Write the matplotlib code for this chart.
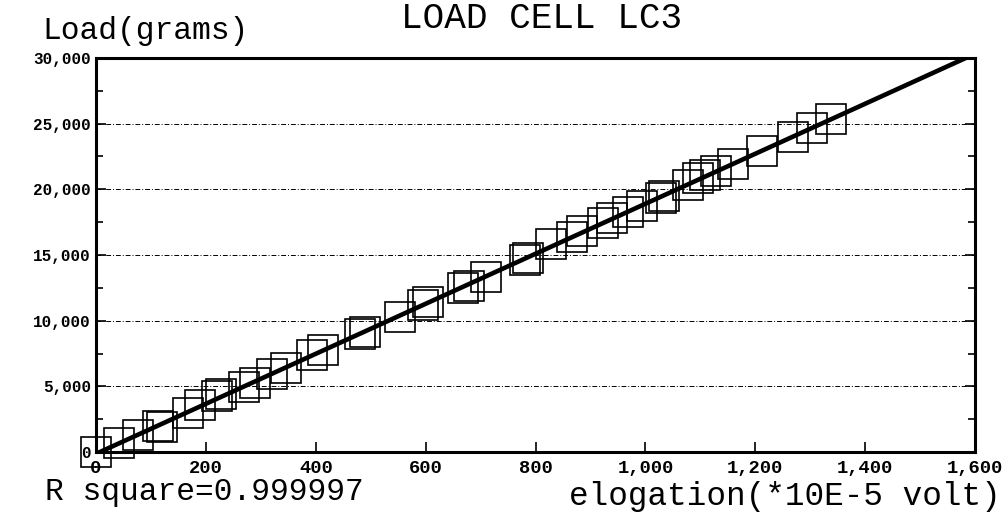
import numpy as np
import matplotlib.pyplot as plt
from matplotlib.ticker import FuncFormatter, MultipleLocator

# readings: elongation (*10E-5 volt) vs load (grams)
elong = [0, 42, 77, 113, 120, 168, 190, 220, 228, 270, 290, 320, 346, 393, 414,
         480, 490, 553, 595, 605, 668, 678, 710, 781, 786, 829, 867, 885, 922,
         940, 969, 993, 1028, 1034, 1078, 1095, 1109, 1129, 1160, 1213, 1268,
         1304, 1337]
load = [0, 700, 1300, 2000, 1900, 3000, 3600, 4250, 4400, 4950, 5250, 5950,
        6400, 7400, 7750, 9000, 9150, 10300, 11200, 11400, 12500, 12650, 13300,
        14650, 14800, 15800, 16350, 16800, 17450, 17800, 18300, 18750, 19350,
        19500, 20300, 20850, 21100, 21400, 21950, 22950, 23950, 24700, 25350]
r_square = "0.999997"

slope, icpt = np.polyfit(elong, load, 1)
x_end = (30000 - icpt) / slope
fit_x = np.array([0, x_end])
fit_y = icpt + slope * fit_x

mono = "Liberation Mono"
fig = plt.figure(figsize=(10.08, 5.15), dpi=100)
ax = fig.add_axes([0.0952, 0.1223, 0.8722, 0.7651])

for y in range(5000, 30000, 5000):
    ax.axhline(y, color="black", lw=0.7, ls=(0, (5, 2, 1, 2)), zorder=1)

ax.plot(elong, load, "s", ms=21, mfc="none", mec="black", mew=1.2,
        clip_on=False, zorder=2)
ax.plot(fit_x, fit_y, color="black", lw=3.3, zorder=3)

ax.set_xlim(0, 1600)
ax.set_ylim(0, 30000)
ax.xaxis.set_major_locator(MultipleLocator(200))
ax.yaxis.set_major_locator(MultipleLocator(5000))
ax.yaxis.set_minor_locator(MultipleLocator(2500))
ax.xaxis.set_major_formatter(FuncFormatter(lambda v, p: f"{int(v):,}"))
ax.yaxis.set_major_formatter(FuncFormatter(lambda v, p: f"{int(v):,}"))
ax.tick_params(axis="both", which="both", direction="in", right=True,
               width=1.2, color="black")
ax.tick_params(axis="both", which="major", length=7)
ax.tick_params(axis="both", which="minor", length=5)
ax.tick_params(axis="x", pad=6)
for s in ax.spines.values():
    s.set_linewidth(2.2)

for lab in ax.get_xticklabels():
    lab.set_fontfamily(mono)
    lab.set_fontweight("bold")
    lab.set_fontsize(13.5)
for lab in ax.get_yticklabels():
    lab.set_fontfamily(mono)
    lab.set_fontweight("bold")
    lab.set_fontsize(11.5)

fig.text(0.144, 0.94, "Load(grams)", family=mono, fontsize=22.5,
         ha="center", va="center")
fig.text(0.537, 0.965, "LOAD CELL LC3", family=mono, fontsize=26,
         ha="center", va="center")
fig.text(0.045, 0.045, "R square=" + r_square, family=mono, fontsize=22.5,
         ha="left", va="center")
fig.text(0.993, 0.035, "elogation(*10E-5 volt)", family=mono, fontsize=23.5,
         ha="right", va="center")

fig.savefig("out.png", dpi=100)
